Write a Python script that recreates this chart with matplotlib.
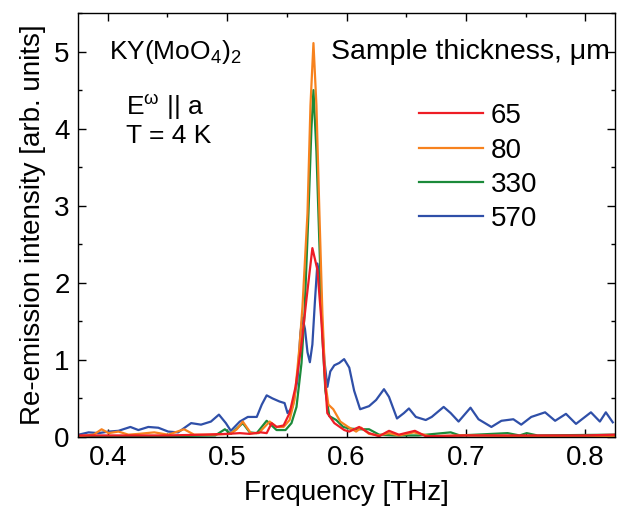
import matplotlib
matplotlib.use('Agg')
import matplotlib.pyplot as plt
from matplotlib.ticker import MultipleLocator

plt.rcParams['font.family'] = ['Liberation Sans', 'DejaVu Sans']
plt.rcParams['mathtext.fontset'] = 'custom'
plt.rcParams['mathtext.rm'] = 'Liberation Sans'
plt.rcParams['mathtext.it'] = 'Liberation Sans'
plt.rcParams['mathtext.default'] = 'regular'

# values
f_570 = [0.3756, 0.3839, 0.3923, 0.4006, 0.4089, 0.4189, 0.4256, 0.4339, 0.4423, 0.4506,
         0.4589, 0.4698, 0.4781, 0.4864, 0.4931, 0.4989, 0.5031, 0.5106, 0.5173, 0.5248,
         0.5290, 0.5331, 0.5380, 0.5439, 0.5481, 0.5506, 0.5548, 0.5589, 0.5614, 0.5631,
         0.5652, 0.5673, 0.5693, 0.5714, 0.5735, 0.5756, 0.5773, 0.5790, 0.5814, 0.5840,
         0.5864, 0.5898, 0.5939, 0.5980, 0.6023, 0.6064, 0.6114, 0.6189, 0.6248, 0.6314,
         0.6356, 0.6423, 0.6481, 0.6523, 0.6581, 0.6664, 0.6714, 0.6814, 0.6873, 0.6939,
         0.7039, 0.7106, 0.7214, 0.7298, 0.7398, 0.7464, 0.7548, 0.7664, 0.7748, 0.7839,
         0.7923, 0.8048, 0.8123, 0.8173, 0.8231]
i_570 = [0.03, 0.06, 0.05, 0.07, 0.08, 0.13, 0.09, 0.13, 0.12, 0.07,
         0.06, 0.18, 0.16, 0.20, 0.29, 0.18, 0.08, 0.20, 0.26, 0.26,
         0.42, 0.54, 0.50, 0.46, 0.44, 0.31, 0.39, 0.74, 1.35, 1.55,
         1.40, 1.10, 0.97, 1.20, 1.75, 2.25, 2.10, 1.60, 1.00, 0.65,
         0.85, 0.93, 0.96, 1.01, 0.90, 0.60, 0.36, 0.40, 0.48, 0.62,
         0.52, 0.24, 0.31, 0.37, 0.26, 0.22, 0.26, 0.39, 0.31, 0.20,
         0.38, 0.23, 0.13, 0.21, 0.23, 0.16, 0.26, 0.32, 0.21, 0.30,
         0.17, 0.32, 0.20, 0.32, 0.19]

f_330 = [0.3756, 0.45, 0.49, 0.4981, 0.5031, 0.5131, 0.5189, 0.5248, 0.5331, 0.5414,
         0.5489, 0.5539, 0.5581, 0.5623, 0.5648, 0.5681, 0.5706, 0.5723, 0.5748, 0.5773,
         0.5798, 0.5823, 0.5856, 0.5914, 0.5973, 0.6023, 0.6106, 0.6189, 0.6273, 0.64,
         0.66, 0.6873, 0.695, 0.735, 0.745, 0.751, 0.76, 0.825]
i_330 = [0.01, 0.01, 0.02, 0.10, 0.04, 0.18, 0.06, 0.05, 0.21, 0.09,
         0.09, 0.18, 0.39, 0.96, 1.60, 2.90, 4.00, 4.50, 3.70, 2.50,
         1.30, 0.60, 0.27, 0.22, 0.13, 0.11, 0.10, 0.10, 0.03, 0.02,
         0.02, 0.06, 0.02, 0.05, 0.02, 0.05, 0.02, 0.03]

f_80 = [0.3756, 0.3881, 0.3948, 0.4006, 0.4089, 0.4173, 0.4256, 0.4389, 0.4506, 0.4639,
        0.4723, 0.4856, 0.5023, 0.5081, 0.5131, 0.5198, 0.5264, 0.5356, 0.5414, 0.5473,
        0.5523, 0.5564, 0.5606, 0.5631, 0.5673, 0.5698, 0.5723, 0.5748, 0.5773, 0.5798,
        0.5823, 0.5848, 0.5889, 0.5948, 0.6014, 0.6081, 0.6123, 0.6189, 0.6273, 0.6356,
        0.6439, 0.6564, 0.67, 0.70, 0.75, 0.80, 0.825]
i_80 = [0.01, 0.03, 0.10, 0.05, 0.07, 0.03, 0.04, 0.06, 0.03, 0.10,
        0.03, 0.03, 0.04, 0.10, 0.20, 0.05, 0.05, 0.20, 0.13, 0.13,
        0.22, 0.48, 1.17, 1.69, 2.90, 4.30, 5.11, 4.30, 2.90, 1.60,
        0.70, 0.42, 0.36, 0.20, 0.13, 0.07, 0.12, 0.04, 0.02, 0.05,
        0.02, 0.06, 0.01, 0.02, 0.01, 0.01, 0.01]

f_65 = [0.3756, 0.40, 0.45, 0.48, 0.50, 0.5106, 0.5189, 0.5281, 0.5331, 0.5373,
        0.5414, 0.5473, 0.5523, 0.5573, 0.5623, 0.5664, 0.5714, 0.5756, 0.5789, 0.5814,
        0.5839, 0.5898, 0.5981, 0.6023, 0.6106, 0.6189, 0.6273, 0.6356, 0.6439, 0.6573,
        0.6664, 0.70, 0.75, 0.80, 0.825]
i_65 = [0.02, 0.02, 0.02, 0.03, 0.04, 0.05, 0.04, 0.06, 0.05, 0.18,
        0.13, 0.15, 0.31, 0.65, 1.20, 1.78, 2.45, 2.17, 1.52, 0.87,
        0.31, 0.18, 0.09, 0.07, 0.13, 0.05, 0.01, 0.08, 0.03, 0.08,
        0.01, 0.02, 0.02, 0.02, 0.03]

fig = plt.figure(figsize=(6.17, 5.08), dpi=100)
ax = fig.add_axes([0.1264, 0.1398, 0.8704, 0.8346])

l570, = ax.plot(f_570, i_570, color='#2f4fa8', lw=1.6, label='570')
l330, = ax.plot(f_330, i_330, color='#1b8a3a', lw=1.6, label='330')
l80, = ax.plot(f_80, i_80, color='#f7821e', lw=1.6, label='80')
l65, = ax.plot(f_65, i_65, color='#ee1d25', lw=1.6, label='65')

ax.set_xlim(0.375, 0.825)
ax.set_ylim(0, 5.5)
ax.xaxis.set_major_locator(MultipleLocator(0.1))
ax.xaxis.set_minor_locator(MultipleLocator(0.05))
ax.yaxis.set_major_locator(MultipleLocator(1))
ax.yaxis.set_minor_locator(MultipleLocator(0.5))
ax.tick_params(which='both', direction='in', top=True, right=True, labelsize=20, width=1)
ax.tick_params(which='major', length=6, pad=6)
ax.tick_params(which='minor', length=3)
for s in ax.spines.values():
    s.set_linewidth(1)

ax.set_xlabel('Frequency [THz]', fontsize=20, labelpad=6)
ax.set_ylabel('Re-emission intensity [arb. units]', fontsize=20, labelpad=6)

ax.text(0.4006, 5.0, 'KY(MoO$_4$)$_2$', fontsize=19, ha='left', va='center')
ax.text(0.4481, 4.27, 'E$^{\\omega}$ || a', fontsize=19, ha='center', va='center')
ax.text(0.4506, 3.90, 'T = 4 K', fontsize=19, ha='center', va='center')
ax.text(0.5873, 5.0, 'Sample thickness, \u03bcm', fontsize=20.5, ha='left', va='center')

ax.legend(handles=[l65, l80, l330, l570], loc='upper left', bbox_to_anchor=(0.6606, 4.33),
          bbox_transform=ax.transData, frameon=False, fontsize=20, borderpad=0,
          borderaxespad=0, handlelength=2.3, handletextpad=0.3, labelspacing=0.3)

fig.savefig('out.png', dpi=100)
